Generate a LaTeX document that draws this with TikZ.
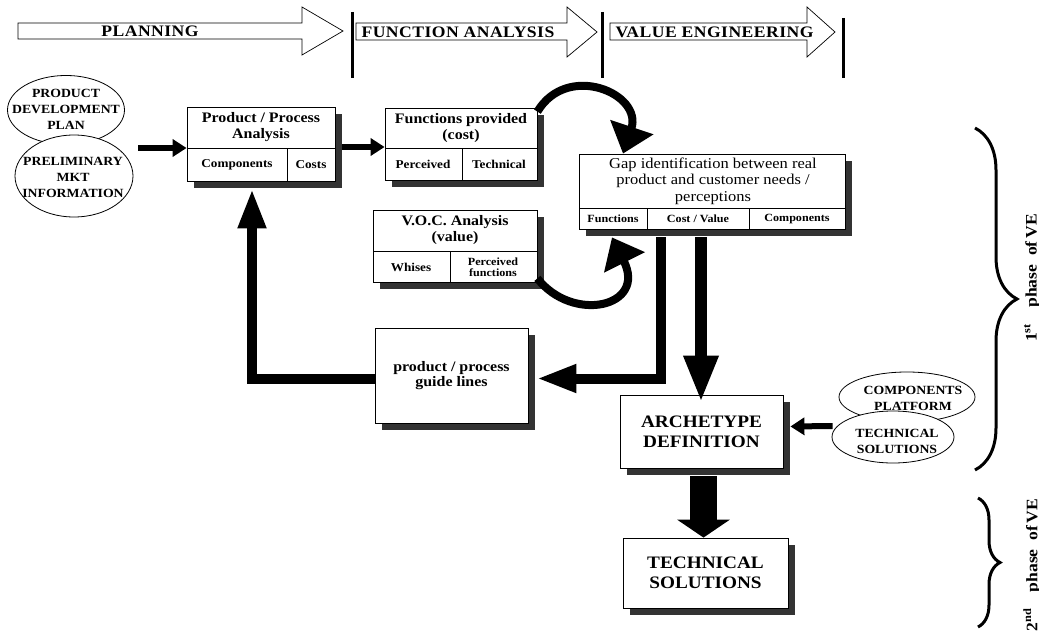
\documentclass[tikz,border=0pt]{standalone}
\usepackage{fontspec}
\setmainfont{Liberation Serif}[FakeStretch=1.1]
\usetikzlibrary{arrows.meta,shapes.geometric,shadows,decorations.pathreplacing}

\tikzset{
  box/.style={draw, fill=white, line width=0.8pt, inner sep=0pt,
    drop shadow={shadow xshift=7pt, shadow yshift=-7pt, fill=black!80, opacity=1}},
  oval/.style={draw, ellipse, fill=white, line width=0.8pt, inner sep=0pt},
  divider/.style={line width=0.8pt},
  title/.style={font=\fontsize{14.5}{15.5}\selectfont\bfseries, align=center},
  gaptitle/.style={font=\fontsize{15}{16.5}\selectfont, align=center},
  cell/.style={font=\fontsize{12}{12.5}\selectfont\bfseries, align=center},
  smallcell/.style={font=\fontsize{11}{11.5}\selectfont\bfseries, align=center},
  big/.style={font=\fontsize{17.5}{20}\selectfont\bfseries, align=center},
  ovaltext/.style={font=\fontsize{12.5}{16}\selectfont\bfseries, align=center},
  stage/.style={font=\fontsize{16}{18}\selectfont\bfseries\addfontfeatures{LetterSpace=3}},
  stagearrow/.style={draw, fill=white, line width=0.7pt},
  bar/.style={line width=3pt},
  phase/.style={font=\fontsize{16}{18}\selectfont\bfseries, rotate=90},
  phasebrace/.style={line width=3pt, decorate, decoration={brace, amplitude=#1}},
  slimarrow/.style={line width=6pt, -{Triangle[length=14pt,width=17pt]}},
  curvearrow/.style={line width=8pt, -{Triangle[length=28pt,width=44pt]}},
  feedarrow/.style={line width=10pt, miter limit=10, -{Triangle[length=40pt,width=26pt]}},
  downarrow/.style={line width=12pt, -{Triangle[length=47pt,width=32pt]}},
  widearrow/.style={line width=27pt, -{Triangle[length=18pt,width=52pt]}}
}

\begin{document}
\begin{tikzpicture}[x=1pt,y=-1pt]
  \useasboundingbox (0,0) rectangle (1039,634);
  % phases along the top
  \draw[stagearrow] (18,23) -- (302,23) -- (302,7) -- (343,31) --
    (302,55) -- (302,39) -- (18,39) -- cycle;
  \draw[stagearrow] (356,23) -- (567,23) -- (567,7) -- (597,32) --
    (567,57) -- (567,40) -- (356,40) -- cycle;
  \draw[stagearrow] (610,23) -- (807,23) -- (807,7) -- (835,32) --
    (807,57) -- (807,40) -- (610,40) -- cycle;
  \node[stage] (planning) at (150,31) {PLANNING};
  \node[stage, anchor=west] (funcan) at (358,32) {FUNCTION ANALYSIS};
  \node[stage, anchor=west] (valeng) at (612,32) {VALUE ENGINEERING};
  \draw[bar] (352,12) -- (352,78);
  \draw[bar] (602,12) -- (602,78);
  \draw[bar] (843,18) -- (843,78);

  % inputs
  \node[oval, minimum width=117, minimum height=69] (pdp) at (66,110) {};
  \node[ovaltext] (pdptext) at (66,109) {PRODUCT\\DEVELOPMENT\\PLAN};
  \node[oval, minimum width=118, minimum height=82] (mkt) at (74,176) {};
  \node[ovaltext] (mkttext) at (73,177) {PRELIMINARY\\MKT\\INFORMATION};

  % product / process analysis
  \node[box, minimum width=148, minimum height=74] (pa) at (261,144) {};
  \draw[divider] (187,148) -- (335,148);
  \draw[divider] (287,148) -- (287,181);
  \node[title] (patitle) at (261,127) {Product / Process\\Analysis};
  \node[cell] (pacomp) at (237,165) {Components};
  \node[cell] (pacost) at (311,165) {Costs};

  % functions provided
  \node[box, minimum width=152, minimum height=72] (fp) at (461,144) {};
  \draw[divider] (385,148) -- (537,148);
  \draw[divider] (462,148) -- (462,180);
  \node[title] (fptitle) at (461,128) {Functions provided\\(cost)};
  \node[cell] (fpperc) at (423,164) {Perceived};
  \node[cell] (fptech) at (499,164) {Technical};

  % voice of customer
  \node[box, minimum width=164, minimum height=72] (voc) at (455,246) {};
  \draw[divider] (373,251) -- (537,251);
  \draw[divider] (450,251) -- (450,282);
  \node[title] (voctitle) at (455,230) {V.O.C. Analysis\\(value)};
  \node[cell] (vocwish) at (411,267) {Whises};
  \node[smallcell] (vocperc) at (493,267) {Perceived\\functions};

  % gap identification
  \node[box, minimum width=266, minimum height=75] (gap) at (712,191.5) {};
  \draw[divider] (579,208) -- (845,208);
  \draw[divider] (647,208) -- (647,229);
  \draw[divider] (749,208) -- (749,229);
  \node[gaptitle] (gaptitle) at (713,181)
    {Gap identification between real\\product and customer needs /\\perceptions};
  \node[smallcell] (gapfunc) at (613,219) {Functions};
  \node[smallcell] (gapcost) at (698,219) {Cost / Value};
  \node[smallcell] (gapcomp) at (797,219) {Components};

  % guide lines, archetype, solutions
  \node[box, minimum width=153, minimum height=95, title] (guide) at (451.5,375.5)
    {product / process\\guide lines};
  \node[box, minimum width=163, minimum height=73, big] (arch) at (701.5,431.5)
    {ARCHETYPE\\DEFINITION};
  \node[box, minimum width=165, minimum height=70, big] (tech) at (705.5,573)
    {TECHNICAL\\SOLUTIONS};

  \node[oval, minimum width=136, minimum height=50] (cp) at (907,397) {};
  \node[ovaltext] (cptext) at (913,398) {COMPONENTS\\PLATFORM};
  \node[oval, minimum width=122, minimum height=52] (ts) at (893,437) {};
  \node[ovaltext] (tstext) at (897,441) {TECHNICAL\\SOLUTIONS};

  % connectors
  \coordinate (mktout) at (138,148);
  \draw[slimarrow] (mktout) -- (mktout -| pa.west);
  \draw[slimarrow] ([xshift=7pt,yshift=-3pt]pa.east) -- ([yshift=-3pt]fp.west);
  \draw[curvearrow] ([yshift=-4pt]fp.north east) .. controls +(30,-50) and +(20,-60) ..
    ([xshift=-89pt]gap.north);
  \draw[curvearrow] ([yshift=4pt]voc.south east) .. controls +(35,45) and +(35,70) ..
    ([xshift=-100pt,yshift=-8pt]gap.south);
  \draw[feedarrow] ([xshift=-51pt,yshift=-8pt]gap.south) |- ([xshift=8pt,yshift=-3pt]guide.east);
  \draw[feedarrow] ([yshift=-3pt]guide.west) -| ([xshift=-9pt,yshift=-7pt]pa.south);
  \draw[downarrow] ([xshift=-11pt,yshift=-8pt]gap.south) -- ([xshift=-11pt,yshift=-8pt]gap.south |- arch.north);
  \draw[slimarrow] ([xshift=1pt,yshift=11pt]ts.west) -- ([xshift=7pt,yshift=5pt]arch.east);
  \draw[widearrow] ([xshift=2pt,yshift=-8pt]arch.south) -- ([xshift=2pt]arch.south |- tech.north);

  % phases of VE
  \draw[phasebrace=42] (975,128) -- (975,470);
  \draw[phasebrace=22] (978,498) -- (978,627);
  \node[phase] (phase1) at (1032,278) {1\textsuperscript{st}\quad phase\ \ of\,VE};
  \node[phase] (phase2) at (1032,565) {2\textsuperscript{nd}\quad phase\ \ of\,VE};
\end{tikzpicture}
\end{document}
